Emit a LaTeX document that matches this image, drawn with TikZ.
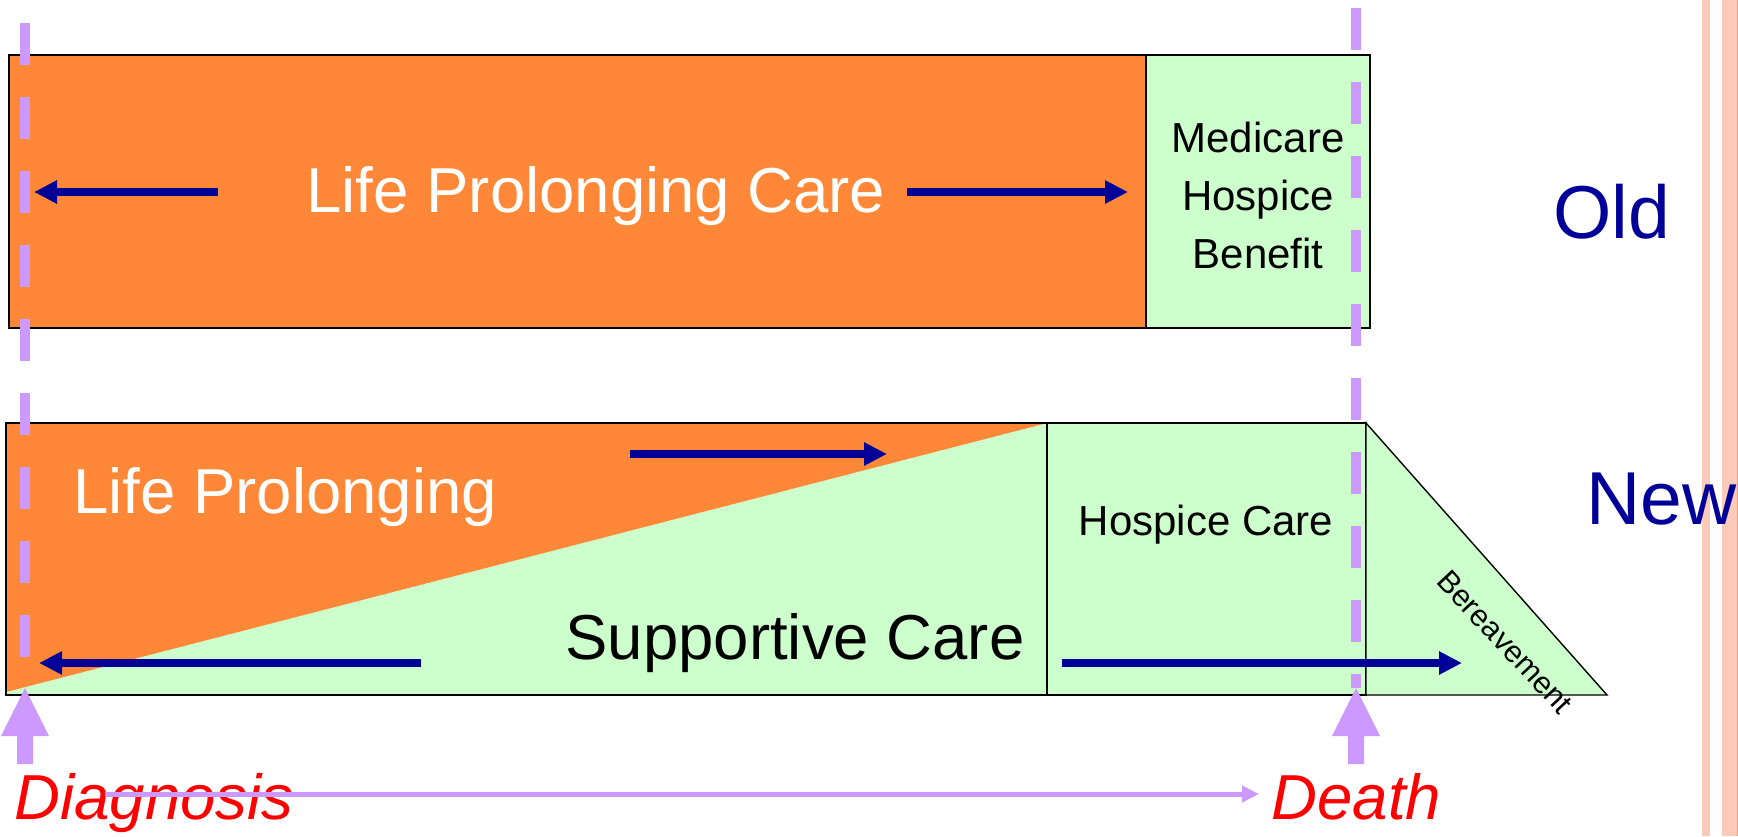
\documentclass[tikz,border=0pt]{standalone}
\usepackage{fontspec}
\setmainfont{Liberation Sans}
\usetikzlibrary{arrows.meta}
\definecolor{lpOrange}{HTML}{FF8838}
\definecolor{hcGreen}{HTML}{CCFFCC}
\definecolor{flowBlue}{HTML}{000099}
\definecolor{markLilac}{HTML}{CC99FF}
\definecolor{railPink}{HTML}{FBCAB8}
\definecolor{railEdge}{HTML}{F0A070}

\begin{document}
\begin{tikzpicture}[x=0.5pt, y=-0.5pt,
  box/.style={draw=black, line width=1pt},
  careflow/.style={flowBlue, line width=4pt, -{Triangle[length=11.5pt,width=11pt]}},
  timemark/.style={markLilac, line width=5pt, dash pattern=on 21pt off 16pt},
  bigtext/.style={inner sep=0pt, anchor=base, font=\fontsize{31.75}{38}\selectfont},
  midtext/.style={inner sep=0pt, font=\fontsize{21}{29}\selectfont},
  eratext/.style={inner sep=0pt, anchor=base west, text=flowBlue, font=\fontsize{37.5}{45}\selectfont},
  eventtext/.style={inner sep=0pt, anchor=base west, text=red, font=\fontsize{31.8}{38}\selectfont\itshape}]
\useasboundingbox (0,0) rectangle (1738,836);
\fill[white] (0,0) rectangle (1738,836);
\fill[railPink] (1702,0) rectangle (1710,836);
\fill[railPink] (1722,0) rectangle (1737,836);
\draw[railEdge, line width=0.5pt] (1737.5,0) -- (1737.5,836);

% old model
\fill[lpOrange] (9,55) rectangle (1146,328);
\fill[hcGreen] (1146,55) rectangle (1370,328);
\draw[box] (9,55) rectangle (1370,328);
\draw[box] (1146,55) -- (1146,328);
\node[bigtext, text=white] (lpcare) at (596,212) {Life Prolonging Care};
\node[midtext, align=center] (mhb) at (1258,195) {Medicare\\Hospice\\Benefit};
\node[eratext] (old) at (1553,238) {Old};

% new model
\fill[hcGreen] (6,423) rectangle (1047,695);
\fill[lpOrange] (6,423) -- (1047,423) -- (6,692) -- cycle;
\draw[box] (1047,423) -- (6,423) -- (6,695) -- (1047,695);
\filldraw[box, fill=hcGreen] (1047,423) rectangle (1366,695);
\filldraw[box, line width=0.7pt, fill=hcGreen] (1366,423) -- (1607,695) -- (1366,695) -- cycle;
\node[bigtext, anchor=base west, text=white] (lp) at (73,513) {Life Prolonging};
\node[bigtext] (sc) at (795,659) {Supportive Care};
\node[midtext, anchor=base] (hc) at (1206,535) {Hospice Care};
\node[inner sep=0pt, rotate=-47, font=\fontsize{15.3}{18}\selectfont] (bereave) at (1505,642) {Bereavement};
\node[eratext] (new) at (1586,524) {New};

% diagnosis and death markers
\foreach \x/\s in {25/23, 1356/8} {
  \draw[timemark] (\x,\s) -- (\x,688);
  \fill[markLilac] (\x,688) -- ++(24,48) -- ++(-16,0) -- ++(0,28) -- ++(-16,0) -- ++(0,-28) -- ++(-16,0) -- cycle;
}

\draw[careflow] (218,192) -- (34,192);
\draw[careflow] (907,192) -- (1128,192);
\draw[careflow] (630,454) -- (887,454);
\draw[careflow] (421,663) -- (39,663);
\draw[careflow] (1062,663) -- (1462,663);

\node[eventtext] (diagnosis) at (14,819) {Diagnosis};
\node[eventtext] (death) at (1271,819) {Death};
\coordinate (tstart) at (105,794);
\draw[markLilac, line width=2.5pt, -{Triangle[length=8.5pt,width=8pt]}, shorten >=6pt] (tstart) -- (death.west |- tstart);
\end{tikzpicture}
\end{document}
